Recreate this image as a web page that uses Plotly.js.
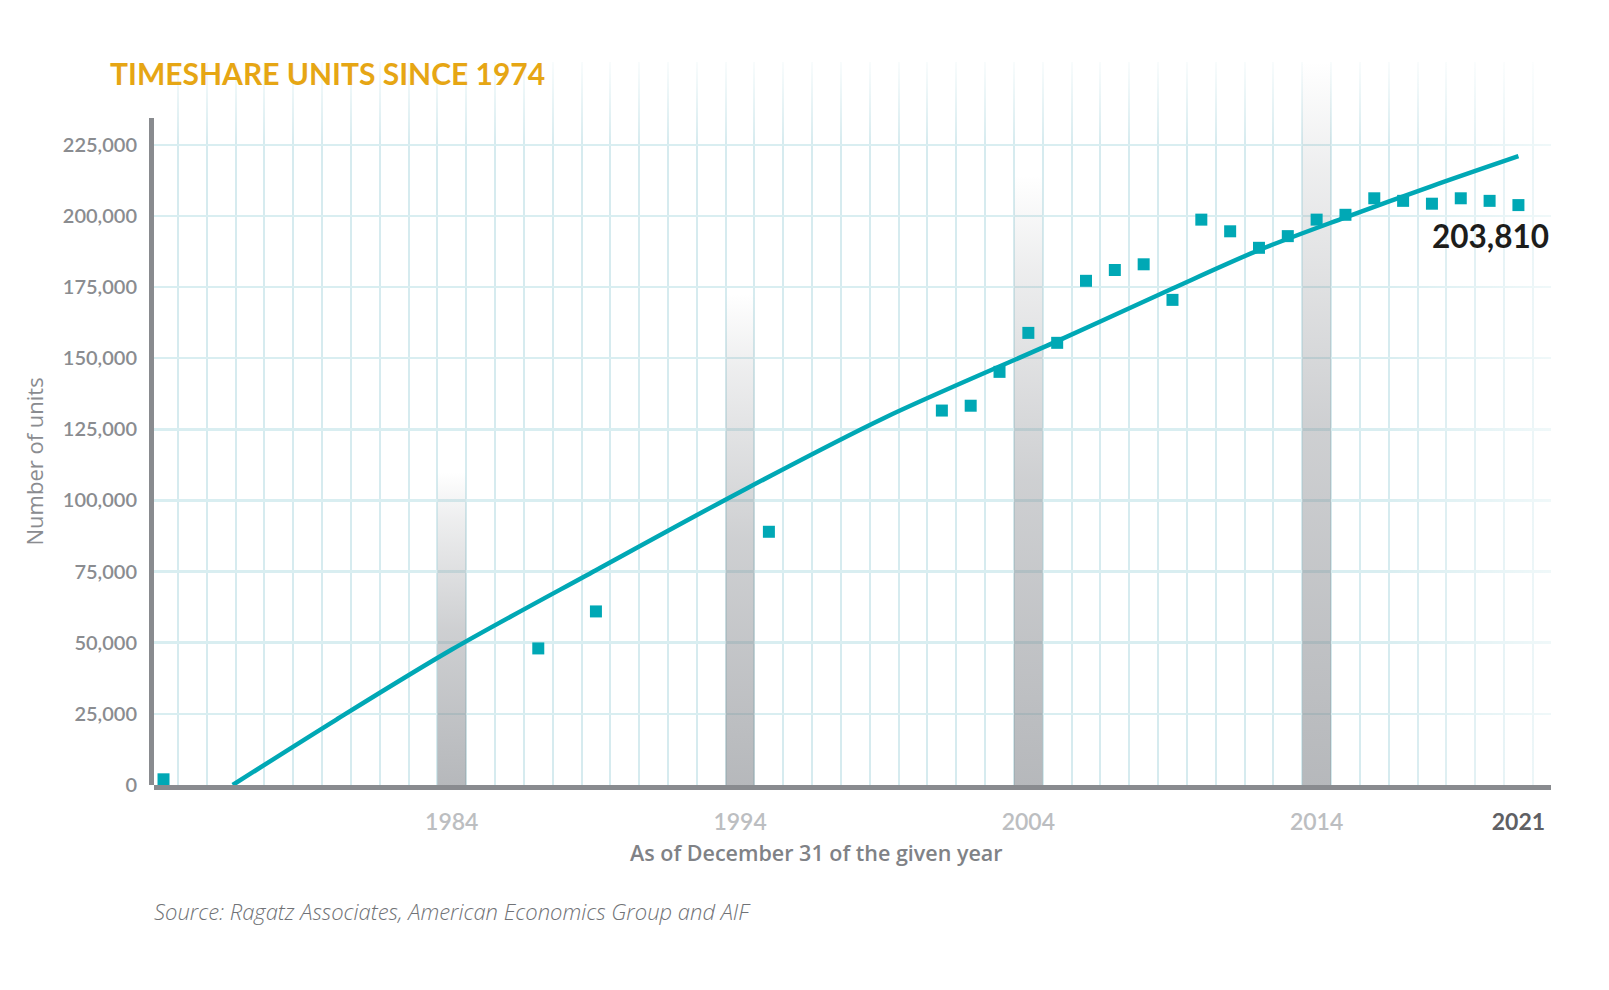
<!DOCTYPE html>
<html>
<head>
<meta charset="utf-8">
<script src="https://cdn.plot.ly/plotly-3.0.1.min.js"></script>
<style>
html,body{margin:0;padding:0;background:#ffffff;}
#chart{width:1609px;height:990px;}
</style>
</head>
<body>
<div id="chart"></div>
<script>
// ---- data ----
const years = [1974, 1987, 1989, 1995, 2001, 2002, 2003, 2004, 2005, 2006, 2007, 2008, 2009,
               2010, 2011, 2012, 2013, 2014, 2015, 2016, 2017, 2018, 2019, 2020, 2021];
const units = [2000, 48000, 61000, 89000, 131600, 133300, 145200, 158900, 155400, 177200, 181000, 183000, 170500,
               198700, 194600, 188800, 192900, 198700, 200400, 206200, 205300, 204300, 206200, 205300, 203810];

const trendYears = [1976.4, 1980, 1984, 1989, 1994, 1999, 2005, 2009, 2012, 2015, 2018, 2021];
const trendUnits = [0, 23000, 47600, 75500, 103000, 129000, 156000, 174500, 188000, 199500, 210500, 221000];

const highlightYears = [1984, 1994, 2004, 2014];
const highlightHeights = [110000, 172700, 214300, 254100];

const xTickVals = [1984, 1994, 2004, 2014, 2021];
const xTickText = ['1984', '1994', '2004', '2014', '<span style="color:#5f6064;font-weight:bold">2021</span>'];
const yTickVals = [0, 25000, 50000, 75000, 100000, 125000, 150000, 175000, 200000, 225000];
const yTickText = ['0', '25,000', '50,000', '75,000', '100,000', '125,000', '150,000', '175,000', '200,000', '225,000'];

const lastLabel = '203,810';

// ---- view settings ----
const X_RANGE = [1973.67, 2022.13];
const Y_RANGE = [0, 254100];
const Y_AXIS_TOP = 234400;
const TEAL = '#00a8b5';
const AXIS_GRAY = '#898b8f';
const FONT = 'Lato, "Open Sans", sans-serif';
const FONT2 = '"Open Sans", Lato, sans-serif';

const traces = [];

// decorative fades of the grid (top and right edge)
traces.push({
  x: [X_RANGE[0], X_RANGE[1], X_RANGE[1], X_RANGE[0]],
  y: [225000, 225000, Y_RANGE[1], Y_RANGE[1]],
  type: 'scatter', mode: 'none', fill: 'toself', hoverinfo: 'skip', showlegend: false,
  fillgradient: {type: 'vertical', colorscale: [[0, 'rgba(255,255,255,0)'], [1, 'rgba(255,255,255,0.85)']]}
});
traces.push({
  x: [2016.5, X_RANGE[1], X_RANGE[1], 2016.5],
  y: [Y_RANGE[0], Y_RANGE[0], Y_RANGE[1], Y_RANGE[1]],
  type: 'scatter', mode: 'none', fill: 'toself', hoverinfo: 'skip', showlegend: false,
  fillgradient: {type: 'horizontal', colorscale: [[0, 'rgba(255,255,255,0)'], [1, 'rgba(255,255,255,0.6)']]}
});

// gradient columns at each decade mark
highlightYears.forEach((yr, i) => {
  const h = highlightHeights[i];
  traces.push({
    x: [yr - 0.5, yr + 0.5, yr + 0.5, yr - 0.5],
    y: [0, 0, h, h],
    type: 'scatter', mode: 'none', fill: 'toself', hoverinfo: 'skip', showlegend: false,
    fillgradient: {
      type: 'vertical',
      colorscale: [[0, 'rgba(120,124,130,0.54)'], [0.5, 'rgba(120,124,130,0.36)'],
                   [0.85, 'rgba(120,124,130,0.13)'], [1, 'rgba(120,124,130,0)']]
    }
  });
});

// trend line
traces.push({
  x: trendYears, y: trendUnits, type: 'scatter', mode: 'lines',
  line: {color: TEAL, width: 4.5, shape: 'spline', smoothing: 0.9},
  hoverinfo: 'skip', showlegend: false
});

// yearly values
traces.push({
  x: years, y: units, type: 'scatter', mode: 'markers',
  marker: {symbol: 'square', size: 12, color: TEAL, line: {width: 0}},
  cliponaxis: false, hoverinfo: 'skip', showlegend: false
});

const M = {l: 154, r: 58, t: 62, b: 205};
const plotW = 1609 - M.l - M.r;
const plotH = 990 - M.t - M.b;
const pxPerUnit = plotH / (Y_RANGE[1] - Y_RANGE[0]);
const px2paperX = px => (px - M.l) / plotW;
const px2paperY = py => (990 - M.b - py) / plotH;

const layout = {
  width: 1609, height: 990,
  margin: M,
  paper_bgcolor: '#ffffff', plot_bgcolor: '#ffffff',
  font: {family: FONT, color: '#8a8c90'},
  title: {
    text: 'TIMESHARE UNITS SINCE 1974',
    font: {family: FONT, size: 30, color: '#e6a614', weight: 'bold'},
    x: 110 / 1609, xref: 'container', xanchor: 'left',
    y: 1 - 74 / 990, yref: 'container', yanchor: 'middle'
  },
  xaxis: {
    range: X_RANGE, fixedrange: true,
    tickmode: 'array', tickvals: xTickVals, ticktext: xTickText,
    ticks: '', ticklabelstandoff: 12,
    tickfont: {family: FONT, size: 23, color: '#bcbec1', weight: 600},
    showgrid: false, zeroline: false,
    showline: true, linecolor: AXIS_GRAY, linewidth: 5,
    minor: {tickmode: 'linear', tick0: 1973.5, dtick: 1, showgrid: true, gridcolor: '#d6ebef', gridwidth: 2, ticks: ''}
  },
  yaxis: {
    range: Y_RANGE, fixedrange: true,
    tickmode: 'array', tickvals: yTickVals, ticktext: yTickText,
    ticks: '', ticklabelstandoff: 16,
    tickfont: {family: FONT, size: 20, color: '#8a8c90', weight: 600},
    showgrid: true, gridcolor: '#d9eef1', gridwidth: 2.5,
    zeroline: false, showline: false
  },
  shapes: [{
    type: 'rect', xref: 'paper', yref: 'y', layer: 'above',
    xsizemode: 'pixel', xanchor: 0, x0: -5, x1: 0,
    y0: -5 / pxPerUnit, y1: Y_AXIS_TOP,
    fillcolor: AXIS_GRAY, line: {width: 0}
  }],
  annotations: [
    {
      text: 'As of December 31 of the given year',
      xref: 'paper', x: px2paperX(816), xanchor: 'center',
      yref: 'paper', y: px2paperY(852), yanchor: 'middle',
      showarrow: false, font: {family: FONT2, size: 21.5, color: '#808286', weight: 600}
    },
    {
      text: 'Number of units', textangle: -90,
      xref: 'paper', x: px2paperX(33.5), xanchor: 'center',
      yref: 'paper', y: px2paperY(462), yanchor: 'middle',
      showarrow: false, font: {family: FONT2, size: 22, color: '#8a8c90', weight: 500}
    },
    {
      text: lastLabel, xref: 'paper', x: 1, xanchor: 'right',
      yref: 'y', y: units[units.length - 1], yanchor: 'middle', yshift: -31,
      showarrow: false, font: {family: FONT, size: 31.5, color: '#1d1d1b', weight: 'bold'}
    },
    {
      text: 'Source: Ragatz Associates, American Economics Group and AIF',
      xref: 'paper', x: px2paperX(152), xanchor: 'left',
      yref: 'paper', y: px2paperY(911), yanchor: 'middle',
      showarrow: false, font: {family: FONT2, size: 22, color: '#707276', style: 'italic', weight: 300}
    }
  ]
};

Plotly.newPlot('chart', traces, layout, {staticPlot: true, displayModeBar: false});
</script>
</body>
</html>
